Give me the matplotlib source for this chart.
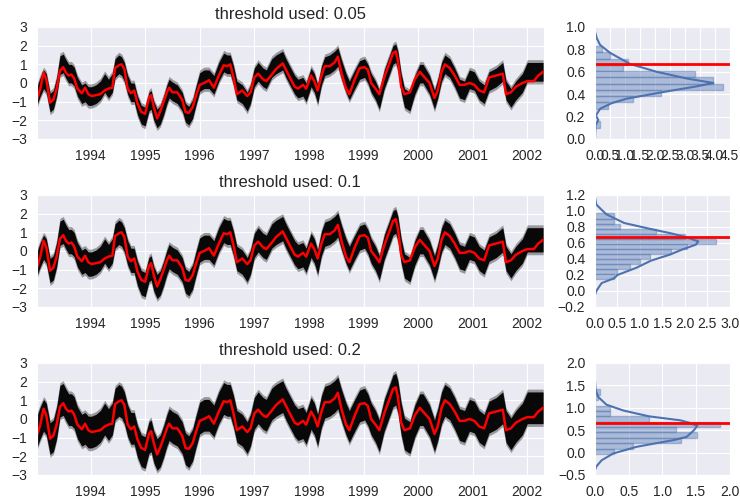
import matplotlib
matplotlib.use("Agg")
import matplotlib.pyplot as plt
import seaborn as sns
import numpy as np

sns.set_style("darkgrid")
plt.rcParams['font.family'] = ['Liberation Sans', 'DejaVu Sans']

# time axis in decimal years
t = [1993.03, 1993.08, 1993.14, 1993.19, 1993.26, 1993.32, 1993.38, 1993.44, 1993.50, 1993.55,
     1993.60, 1993.65, 1993.70, 1993.76, 1993.84, 1993.90, 1993.96, 1994.02, 1994.10, 1994.18,
     1994.26, 1994.33, 1994.40, 1994.45, 1994.52, 1994.57, 1994.62, 1994.68, 1994.74, 1994.80,
     1994.86, 1994.93, 1995.00, 1995.07, 1995.11, 1995.16, 1995.22, 1995.28, 1995.34, 1995.40,
     1995.44, 1995.50, 1995.59, 1995.68, 1995.74, 1995.80, 1995.87, 1995.93, 1996.00, 1996.08,
     1996.17, 1996.26, 1996.35, 1996.44, 1996.50, 1996.56, 1996.62, 1996.68, 1996.78, 1996.87,
     1996.93, 1997.00, 1997.07, 1997.16, 1997.22, 1997.32, 1997.40, 1997.52, 1997.58, 1997.65,
     1997.74, 1997.80, 1997.89, 1997.95, 1998.04, 1998.10, 1998.16, 1998.23, 1998.29, 1998.38,
     1998.47, 1998.53, 1998.60, 1998.68, 1998.74, 1998.84, 1998.93, 1999.02, 1999.08, 1999.14,
     1999.22, 1999.29, 1999.38, 1999.48, 1999.54, 1999.59, 1999.63, 1999.69, 1999.75, 1999.85,
     1999.94, 2000.03, 2000.09, 2000.15, 2000.21, 2000.30, 2000.36, 2000.43, 2000.49, 2000.58,
     2000.67, 2000.76, 2000.85, 2000.94, 2001.03, 2001.12, 2001.21, 2001.30, 2001.43, 2001.55,
     2001.61, 2001.70, 2001.79, 2001.91, 2002.00, 2002.12, 2002.20, 2002.29]

# observed series (red)
obs = [-0.80, -0.30, 0.55, 0.20, -1.05, -0.90, -0.30, 0.65, 0.85, 0.55,
       0.40, 0.45, 0.25, -0.30, -0.55, -0.25, -0.60, -0.70, -0.65, -0.60,
       -0.40, -0.30, -0.25, 0.80, 0.95, 1.00, 0.75, -0.30, -0.55, -0.40,
       -1.10, -1.55, -1.65, -0.80, -0.65, -1.30, -1.90, -1.50, -1.00, -0.50,
       -0.25, -0.50, -0.50, -0.90, -1.55, -1.60, -1.30, -0.70, -0.10, 0.00,
       0.15, -0.25, 0.40, 0.95, 0.90, 1.00, 0.30, -0.60, -0.40, -0.70,
       -0.50, 0.30, 0.50, 0.20, 0.10, 0.45, 0.75, 1.05, 0.70, 0.30,
       -0.20, -0.30, -0.10, -0.30, 0.40, 0.10, -0.40, 0.40, 0.90, 0.90,
       1.10, 1.40, 0.50, -0.30, -0.60, 0.20, 0.80, 0.85, 0.70, 0.00,
       -0.30, -0.60, 0.30, 1.10, 1.60, 1.70, 1.20, -0.20, -0.60, -0.50,
       0.20, 0.60, 0.40, 0.20, 0.00, -0.80, -0.40, 0.60, 1.00, 0.80,
       0.40, -0.10, -0.10, 0.00, -0.10, -0.40, -0.50, 0.30, 0.40, 0.50,
       -0.60, -0.50, -0.20, 0.00, 0.10, 0.10, 0.40, 0.60]

# centre of the ensemble band (black)
ens_mid = [-0.60, -0.20, 0.20, 0.00, -1.05, -0.90, -0.20, 0.95, 1.05, 0.75,
           0.50, 0.50, 0.35, -0.20, -0.60, -0.50, -0.70, -0.70, -0.60, -0.40,
           0.00, -0.30, 0.00, 0.80, 1.00, 0.90, 0.60, -0.10, -0.50, -0.50,
           -1.20, -1.70, -1.80, -1.00, -0.90, -1.50, -1.90, -1.70, -1.20, -0.60,
           -0.30, -0.45, -0.60, -1.00, -1.60, -1.75, -1.40, -0.70, 0.05, 0.20,
           0.20, -0.10, 0.60, 1.10, 1.00, 1.00, 0.40, -0.40, -0.60, -1.00,
           -0.60, 0.30, 0.60, 0.30, 0.20, 0.80, 1.00, 1.20, 0.80, 0.40,
           -0.10, -0.30, -0.20, -0.50, 0.30, 0.00, -0.60, 0.40, 0.90, 1.00,
           1.20, 1.40, 0.70, 0.00, -0.40, 0.20, 0.70, 0.80, 0.50, 0.00,
           -0.40, -0.90, 0.20, 1.00, 1.50, 1.60, 1.20, 0.00, -0.80, -1.00,
           -0.10, 0.50, 0.50, 0.20, -0.10, -0.90, -0.30, 0.60, 1.00, 0.80,
           0.30, -0.30, -0.40, 0.20, 0.10, -0.40, -0.60, 0.10, 0.30, 0.60,
           -0.40, -0.80, -0.40, 0.00, 0.60, 0.60, 0.60, 0.60]

thresholds = ['0.05', '0.1', '0.2']
band_half = [0.5, 0.65, 0.85]
target = 0.67

# histograms (bin edges and heights) per threshold
hist_edges = [
    [0.102, 0.158, 0.214, 0.27, 0.326, 0.382, 0.438, 0.494, 0.55, 0.606, 0.662, 0.718, 0.774, 0.83],
    [0.15, 0.213, 0.276, 0.339, 0.402, 0.465, 0.528, 0.591, 0.654, 0.717, 0.78, 0.843, 0.906, 0.969],
    [-0.03, 0.09, 0.21, 0.33, 0.45, 0.57, 0.69, 0.81, 0.93, 1.05, 1.17, 1.29, 1.41],
]
hist_heights = [
    [0.17, 0.0, 0.0, 0.45, 1.28, 2.2, 4.27, 3.93, 3.35, 0.93, 1.09, 0.5, 0.22],
    [0.43, 0.5, 0.77, 1.0, 1.22, 1.7, 2.05, 2.7, 2.0, 1.35, 0.55, 0.43, 0.43],
    [0.28, 0.56, 1.28, 1.51, 1.2, 1.85, 0.8, 0.23, 0.23, 0.0, 0.05, 0.07],
]
# kde curves (value, density)
kde_v = [
    [0.0, 0.12, 0.17, 0.21, 0.27, 0.32, 0.36, 0.42, 0.47, 0.50, 0.54, 0.60, 0.67, 0.77, 0.84, 0.90, 0.96, 1.0],
    [-0.05, 0.0, 0.06, 0.10, 0.16, 0.20, 0.29, 0.38, 0.455, 0.52, 0.58, 0.62, 0.67, 0.72, 0.78, 0.85, 0.96, 1.08, 1.17],
    [-0.39, -0.31, -0.17, -0.02, 0.13, 0.28, 0.35, 0.50, 0.60, 0.67, 0.72, 0.81, 0.94, 1.07, 1.24, 1.40, 1.60],
]
kde_d = [
    [0.0, 0.02, 0.11, 0.03, 0.17, 0.56, 1.06, 2.29, 3.4, 3.96, 3.07, 2.06, 1.17, 0.5, 0.17, 0.06, 0.0, 0.0],
    [0.0, 0.03, 0.1, 0.15, 0.43, 0.5, 0.92, 1.25, 1.67, 1.95, 2.25, 2.3, 2.05, 1.7, 1.2, 0.65, 0.25, 0.03, 0.0],
    [0.0, 0.02, 0.1, 0.27, 0.62, 1.17, 1.36, 1.47, 1.52, 1.39, 1.27, 0.8, 0.42, 0.17, 0.05, 0.01, 0.0],
]
hist_ylim = [(0, 1.0), (-0.2, 1.2), (-0.5, 2.0)]
hist_yticks = [np.arange(0, 1.01, 0.2), np.arange(-0.2, 1.21, 0.2), np.arange(-0.5, 2.01, 0.5)]
hist_xlim = [4.5, 3.0, 2.0]

fig = plt.figure(figsize=(7.4, 5.0), dpi=100)
gs = fig.add_gridspec(3, 2, width_ratios=[508, 135], left=0.05, right=0.986,
                      top=0.946, bottom=0.05, hspace=0.5, wspace=0.16)

t_arr = np.array(t)
mid = np.array(ens_mid)
blue = '#4C72B0'
for i in range(3):
    ax = fig.add_subplot(gs[i, 0])
    hw = band_half[i]
    ax.fill_between(t_arr, mid - hw - 0.15, mid + hw + 0.15, color='black', alpha=0.35, lw=0)
    ax.fill_between(t_arr, mid - hw, mid + hw, color='black', alpha=0.95, lw=0)
    ax.plot(t_arr, obs, color='red', lw=1.8)
    ax.set_xlim(1993.02, 2002.3)
    ax.set_ylim(-3, 3)
    ax.set_yticks(range(-3, 4))
    ax.set_xticks(range(1994, 2003))
    ax.set_title('threshold used: ' + thresholds[i], fontsize=12)
    ax.tick_params(labelsize=10)

    hx = fig.add_subplot(gs[i, 1])
    e = hist_edges[i]
    hx.barh(e[:-1], hist_heights[i], height=np.diff(e), align='edge',
            color=blue, alpha=0.4, edgecolor=blue, lw=1)
    hx.plot(kde_d[i], kde_v[i], color=blue, lw=1.5)
    hx.axhline(target, color='red', lw=2)
    hx.set_ylim(*hist_ylim[i])
    hx.set_yticks(hist_yticks[i])
    hx.set_xlim(0, hist_xlim[i])
    hx.set_xticks(np.arange(0, hist_xlim[i] + 0.01, 0.5))
    hx.tick_params(labelsize=10)

fig.savefig('out.png', dpi=100)
